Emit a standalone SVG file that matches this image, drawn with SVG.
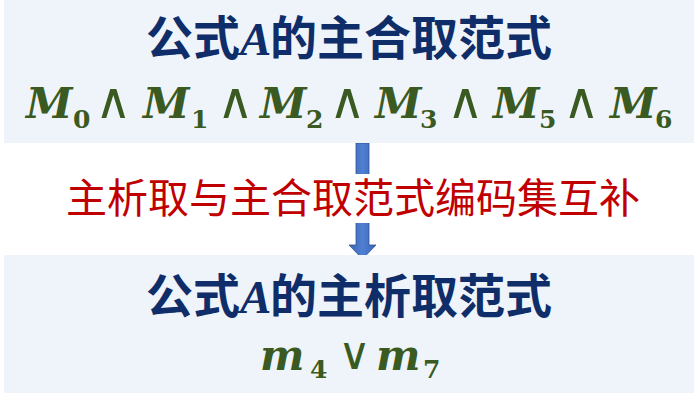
<svg xmlns="http://www.w3.org/2000/svg" width="694" height="404" viewBox="0 0 694 404">
  <defs>
    <linearGradient id="arrowGrad" x1="0" y1="0" x2="1" y2="0">
      <stop offset="0" stop-color="#3A66B5"/>
      <stop offset="0.5" stop-color="#4F7FD3"/>
      <stop offset="1" stop-color="#3A66B5"/>
    </linearGradient>
    <style>
      .box { fill: #EEF4FA; }
      .title { font-family: "Noto Sans CJK SC", "Noto Sans", sans-serif; font-weight: bold; font-size: 47px; fill: #0F2D69; }
      .titleA { font-family: "Liberation Serif", serif; font-style: italic; font-weight: bold; font-size: 47px; fill: #0F2D69; }
      .mvar { font-family: "DejaVu Serif", serif; font-style: italic; font-weight: bold; font-size: 42px; fill: #3A5A22; }
      .msub { font-family: "DejaVu Serif", serif; font-style: normal; font-weight: bold; font-size: 25px; fill: #3A5A22; }
      .mop { font-family: "DejaVu Sans", sans-serif; font-style: normal; font-weight: normal; font-size: 50px; fill: #3A5A22; }
      .label { font-family: "Noto Sans CJK SC", "Noto Sans", sans-serif; font-size: 41px; fill: #C00000; }
    </style>
  </defs>

  <rect width="694" height="404" fill="#FFFFFF"/>

  <g id="connectors">
    <path d="M356,143 H369 V245 H376 L362.5,259 L349,245 H356 Z" fill="url(#arrowGrad)" stroke="#2F528F" stroke-width="0.8"/>
  </g>

  <g id="node-top">
    <rect class="box" x="4" y="0" width="690" height="143"/>
    <text y="55" class="title"><tspan x="146">公式</tspan><tspan class="titleA" x="240">A</tspan><tspan x="270">的主合取范式</tspan></text>
    <text class="mvar" x="26" y="118">M</text><text class="msub" x="73" y="128">0</text>
    <text class="mop" x="95" y="118">∧</text>
    <text class="mvar" x="143" y="118">M</text><text class="msub" x="191" y="128">1</text>
    <text class="mop" x="217" y="118">∧</text>
    <text class="mvar" x="260" y="118">M</text><text class="msub" x="306" y="128">2</text>
    <text class="mop" x="329" y="118">∧</text>
    <text class="mvar" x="375" y="118">M</text><text class="msub" x="420" y="128">3</text>
    <text class="mop" x="447" y="118">∧</text>
    <text class="mvar" x="493" y="118">M</text><text class="msub" x="539" y="128">5</text>
    <text class="mop" x="563" y="118">∧</text>
    <text class="mvar" x="610" y="118">M</text><text class="msub" x="655" y="128">6</text>
  </g>

  <g id="label-complement">
    <rect x="60" y="174" width="592" height="49" fill="#FFFFFF"/>
    <text class="label" x="66" y="213">主析取与主合取范式编码集互补</text>
  </g>

  <g id="node-bottom">
    <rect class="box" x="4" y="255" width="690" height="138"/>
    <text y="313" class="title"><tspan x="146">公式</tspan><tspan class="titleA" x="240">A</tspan><tspan x="270">的主析取范式</tspan></text>
    <text class="mvar" x="260" y="370">m</text><text class="msub" x="310" y="378">4</text>
    <text class="mop" x="338" y="369" style="font-size:45px">∨</text>
    <text class="mvar" x="376" y="370">m</text><text class="msub" x="423" y="378">7</text>
  </g>
</svg>
